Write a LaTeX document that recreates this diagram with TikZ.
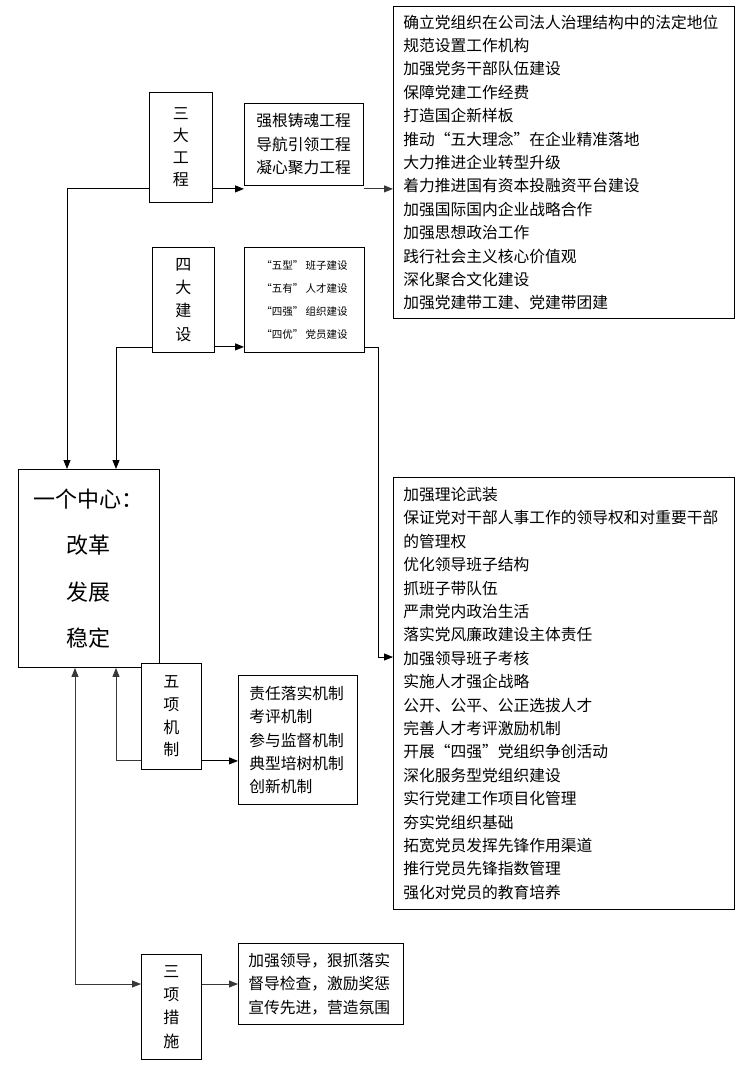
\documentclass[tikz,border=0pt]{standalone}
\usepackage{fontspec}
\setmainfont{Noto Sans CJK SC}
\usetikzlibrary{arrows.meta}
\begin{document}
\begin{tikzpicture}[x=1pt,y=-1pt,
  box/.style={draw, line width=0.9pt, inner sep=0pt, anchor=north west, fill=white},
  vbox/.style={box, align=center, font=\fontsize{16}{#1}\selectfont},
  lbox/.style={box, align=left, font=\fontsize{15.75}{23.4}\selectfont},
  conn/.style={line width=0.9pt, -{Triangle[length=9pt,width=7pt]}},
  gconn/.style={conn, color=black!78},
  dconn/.style={line width=0.9pt, color=black!78, {Triangle[length=9pt,width=7pt]}-{Triangle[length=9pt,width=7pt]}}]
\useasboundingbox (0,0) rectangle (743,1088);

% boxes
\node[box, align=center, minimum width=141pt, minimum height=198pt,
      font=\fontsize{22}{46.5}\selectfont] (center) at (18,469)
  {一个中心：\\改革\\发展\\稳定};

\node[vbox=22, minimum width=63pt, minimum height=110pt] (sdgc) at (149,92) {三\\大\\工\\程};
\node[vbox=23.3, minimum width=62pt, minimum height=105pt] (sdjs) at (152,247) {四\\大\\建\\设};
\node[vbox=22.7, minimum width=60pt, minimum height=106pt] (wxjz) at (141,663) {五\\项\\机\\制};
\node[vbox=23.3, minimum width=60pt, minimum height=105pt] (sxcs) at (141,954) {三\\项\\措\\施};

\node[lbox, text width=95pt, inner xsep=12pt, minimum height=82pt] (gc) at (244,103)
  {强根铸魂工程\\导航引领工程\\凝心聚力工程};

\node[box, align=center, minimum width=120pt, minimum height=105pt,
      font=\fontsize{10.5}{23.3}\selectfont] (small) at (244,247)
  {“五型” 班子建设\\“五有” 人才建设\\“四强” 组织建设\\“四优” 党员建设};

\node[lbox, text width=97pt, inner xsep=11pt, minimum height=129pt] (zr) at (238,675)
  {责任落实机制\\考评机制\\参与监督机制\\典型培树机制\\创新机制};

\node[lbox, text width=145pt, inner xsep=10pt, minimum height=81pt] (jq) at (238,943)
  {加强领导，狠抓落实\\督导检查，激励奖惩\\宣传先进，营造氛围};

\node[lbox, text width=321pt, inner xsep=10pt, minimum height=312pt] (top) at (393,6)
  {确立党组织在公司法人治理结构中的法定地位\\规范设置工作机构\\加强党务干部队伍建设\\保障党建工作经费\\打造国企新样板\\推动“五大理念”在企业精准落地\\大力推进企业转型升级\\着力推进国有资本投融资平台建设\\加强国际国内企业战略合作\\加强思想政治工作\\践行社会主义核心价值观\\深化聚合文化建设\\加强党建带工建、党建带团建};

\node[lbox, text width=321pt, inner xsep=10pt, minimum height=432pt] (br) at (393,477)
  {加强理论武装\\保证党对干部人事工作的领导权和对重要干部\\的管理权\\优化领导班子结构\\抓班子带队伍\\严肃党内政治生活\\落实党风廉政建设主体责任\\加强领导班子考核\\实施人才强企战略\\公开、公平、公正选拔人才\\完善人才考评激励机制\\开展“四强”党组织争创活动\\深化服务型党组织建设\\实行党建工作项目化管理\\夯实党组织基础\\拓宽党员发挥先锋作用渠道\\推行党员先锋指数管理\\强化对党员的教育培养};

\coordinate (brin) at ([yshift=-180pt]br.north west);

% connectors
\draw[conn] ([yshift=14pt]sdgc.south east) -- ([yshift=14pt]sdgc.south east -| gc.west);
\draw[gconn] ([yshift=-3pt]gc.south east) -- ([yshift=-3pt]gc.south east -| top.west);
\draw[conn] ([yshift=14pt]sdgc.south west) -| ([xshift=49pt]center.north west);

\draw[conn] ([yshift=6pt]sdjs.south east) -- ([yshift=6pt]sdjs.south east -| small.west);
\draw[conn] ([yshift=5pt]sdjs.south west) -| ([xshift=98pt]center.north west);
\draw[conn] ([yshift=5pt]small.south east) -- ++(14,0) |- (brin);

\draw[gconn] ([yshift=9pt]wxjz.south west) -| ([xshift=98pt]center.south west);
\draw[conn] ([yshift=9pt]wxjz.south east) -- ([yshift=9pt]wxjz.south east -| zr.west);

\draw[dconn] ([xshift=57pt]center.south west) |- ([yshift=-30pt]sxcs.north west);
\draw[gconn] ([yshift=-30pt]sxcs.north east) -- ([yshift=-30pt]sxcs.north east -| jq.west);
\end{tikzpicture}
\end{document}
